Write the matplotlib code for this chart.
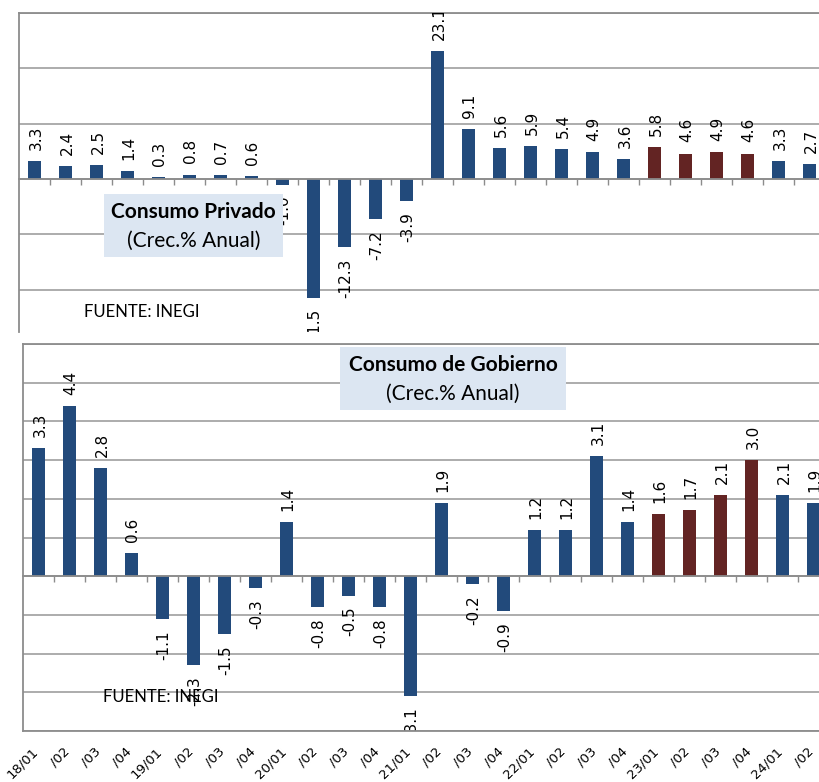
import matplotlib
matplotlib.use("Agg")
import matplotlib.pyplot as plt
from matplotlib.patches import Rectangle

# quarterly periods (2018 Q1 to 2024 Q2)
periods = ['18/01', '/02', '/03', '/04', '19/01', '/02', '/03', '/04',
           '20/01', '/02', '/03', '/04', '21/01', '/02', '/03', '/04',
           '22/01', '/02', '/03', '/04', '23/01', '/02', '/03', '/04',
           '24/01', '/02']

# annual growth rates (%)
privado = [3.3, 2.4, 2.5, 1.4, 0.3, 0.8, 0.7, 0.6,
           -1.0, -21.5, -12.3, -7.2, -3.9, 23.1, 9.1, 5.6,
           5.9, 5.4, 4.9, 3.6, 5.8, 4.6, 4.9, 4.6,
           3.3, 2.7]
gobierno = [3.3, 4.4, 2.8, 0.6, -1.1, -2.3, -1.5, -0.3,
            1.4, -0.8, -0.5, -0.8, -3.1, 1.9, -0.2, -0.9,
            1.2, 1.2, 3.1, 1.4, 1.6, 1.7, 2.1, 3.0,
            2.1, 1.9]
highlight_idx = [20, 21, 22, 23]  # 2023 quarters shown in red

BLUE = '#224a7b'
RED = '#632423'
GRID = '#a6a6a6'
BOX = '#dce6f2'

W, H = 819, 782
fig = plt.figure(figsize=(W / 100, H / 100), dpi=100)


def px_axes(left, top, right, bottom):
    return fig.add_axes([left / W, 1 - bottom / H, (right - left) / W, (bottom - top) / H])


def draw_panel(ax, values, ylim, step):
    n = len(values)
    x = list(range(n))
    colors = [RED if i in highlight_idx else BLUE for i in x]
    ax.bar(x, values, width=0.4, color=colors, zorder=2)
    ax.set_xlim(-0.5, n - 0.5)
    ax.set_ylim(*ylim)
    yt = []
    v = 0
    while v <= ylim[1] + 1e-9:
        yt.append(v)
        v += step
    v = -step
    while v >= ylim[0] - 1e-9:
        yt.append(v)
        v -= step
    ax.set_yticks(sorted(yt))
    ax.set_yticklabels([])
    ax.tick_params(axis='y', length=0)
    ax.grid(axis='y', color=GRID, lw=1.3, zorder=0)
    ax.spines['right'].set_visible(False)
    for s in ['left', 'top', 'bottom']:
        ax.spines[s].set_color('#8c8c8c')
        ax.spines[s].set_linewidth(1.3)
    ax.spines['bottom'].set_position(('data', 0))
    ax.set_xticks([i + 0.5 for i in range(n - 1)])
    ax.set_xticklabels([])
    ax.tick_params(axis='x', length=4, color='#8c8c8c', width=1)
    for i, val in enumerate(values):
        t = ax.annotate(f'{val:.1f}', (i, val), xytext=(1, 8 if val >= 0 else -8),
                        textcoords='offset points', rotation=90,
                        ha='center', va='bottom' if val >= 0 else 'top',
                        fontsize=11, color='black', zorder=3)
        t.set_clip_path(ax.patch)


def note_box(ax, x0, x1, y0, y1, title, ytitle, ysub):
    ax.add_patch(Rectangle((x0, y1), x1 - x0, y0 - y1, facecolor=BOX,
                           edgecolor='none', zorder=6))
    xc = (x0 + x1) / 2
    ax.text(xc, ytitle, title, ha='center', va='baseline', fontsize=15,
            fontweight='bold', family='Lato', zorder=7)
    ax.text(xc, ysub, '(Crec.% Anual)', ha='center', va='baseline', fontsize=15,
            family='Lato', zorder=7)


# top panel: private consumption (cropped at the bottom)
ax1 = px_axes(19, 13, 825, 332)
draw_panel(ax1, privado, (-27.65, 30), 10)
note_box(ax1, 2.24, 8.02, -2.7, -14.1, 'Consumo Privado', -7.1, -12.25)
ax1.text(1.6, -24.9, 'FUENTE: INEGI', ha='left', va='baseline', fontsize=12,
         family='Lato', zorder=7)

# bottom panel: government consumption
ax2 = px_axes(23, 344, 829, 731)
draw_panel(ax2, gobierno, (-4, 6), 1)
ax2.axhline(-4, color='#8c8c8c', lw=1.3, clip_on=False, zorder=4)
note_box(ax2, 9.73, 17.02, 5.93, 4.30, 'Consumo de Gobierno', 5.29, 4.56)
ax2.text(2.07, -3.24, 'FUENTE: INEGI', ha='left', va='baseline', fontsize=12,
         family='Lato', zorder=7)

for i, lab in enumerate(periods):
    ax2.annotate(lab, (i, -4), xytext=(-5, -10), textcoords='offset points',
                 rotation=45, rotation_mode='anchor', ha='right', va='top',
                 fontsize=9.5, annotation_clip=False)

fig.savefig('out.png', dpi=100)
